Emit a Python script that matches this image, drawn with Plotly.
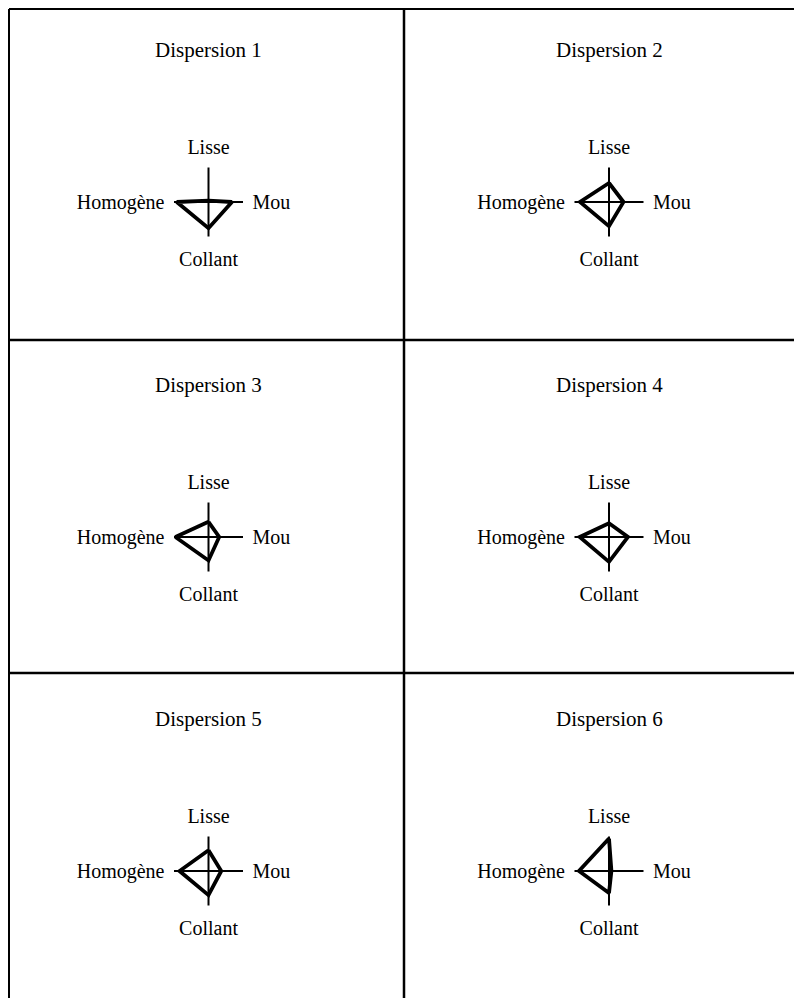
import plotly.graph_objects as go

# axes of every radar, clockwise from the top
categories = ["Lisse", "Mou", "Collant", "Homogène"]
titles = ["Dispersion 1", "Dispersion 2", "Dispersion 3",
          "Dispersion 4", "Dispersion 5", "Dispersion 6"]

# scores 0-5, same order as categories
disp1 = [0.2, 3.4, 3.8, 4.6]
disp2 = [2.75, 2.1, 3.5, 4.2]
disp3 = [2.2, 1.55, 3.4, 4.8]
disp4 = [2.0, 2.75, 3.6, 4.25]
disp5 = [3.0, 1.85, 3.5, 4.2]
disp6 = [4.7, 0.35, 3.2, 4.35]
series = [disp1, disp2, disp3, disp4, disp5, disp6]

# page is 802x1006, the html body keeps an 8px margin
OFF = 8
W, H = 802 - 2 * OFF, 1006 - 2 * OFF
R = 34.5
col_x = [208.5, 609]
row_y = [202, 537, 871]
FONT = "Liberation Serif, Times New Roman, serif"


def px(x):
    return (x - OFF) / W


def py(y):
    return 1 - (y - OFF) / H


fig = go.Figure()
layout = {}
for i, vals in enumerate(series):
    cx = col_x[i % 2]
    cy = row_y[i // 2]
    name = "polar" if i == 0 else f"polar{i + 1}"
    fig.add_trace(go.Scatterpolar(
        r=vals + vals[:1], theta=categories + categories[:1],
        mode="lines", line=dict(color="black", width=3.8),
        subplot=name, showlegend=False, hoverinfo="skip"))
    layout[name] = dict(
        domain=dict(x=[px(cx - R), px(cx + R)],
                    y=[py(cy + R), py(cy - R)]),
        bgcolor="white",
        radialaxis=dict(visible=False, range=[0, 5]),
        angularaxis=dict(rotation=90, direction="clockwise",
                         categoryorder="array", categoryarray=categories,
                         showline=False, showgrid=True, gridcolor="black",
                         gridwidth=2, ticks="outside", ticklen=5,
                         tickcolor="rgba(0,0,0,0)",
                         tickfont=dict(family=FONT, size=20, color="black")),
    )
    fig.add_annotation(text=titles[i], x=px(cx), y=py(cy - 152),
                       xref="paper", yref="paper", showarrow=False,
                       xanchor="center", yanchor="middle",
                       font=dict(family=FONT, size=21, color="black"))


# table rules
def hline(y, x0=OFF + 1, x1=802, w=2.5):
    fig.add_shape(type="line", xref="paper", yref="paper",
                  x0=px(x0), x1=px(x1), y0=py(y), y1=py(y),
                  line=dict(color="black", width=w))


def vline(x, y0=OFF + 1, y1=1006, w=2.5):
    fig.add_shape(type="line", xref="paper", yref="paper",
                  x0=px(x), x1=px(x), y0=py(y0), y1=py(y1),
                  line=dict(color="black", width=w))


hline(OFF + 1, w=2)
hline(340)
hline(673)
vline(OFF + 1, w=2)
vline(404)

fig.update_layout(**layout)
fig.update_layout(width=W, height=H, margin=dict(l=0, r=0, t=0, b=0),
                  paper_bgcolor="white", plot_bgcolor="white")
fig.write_html("out.html")
